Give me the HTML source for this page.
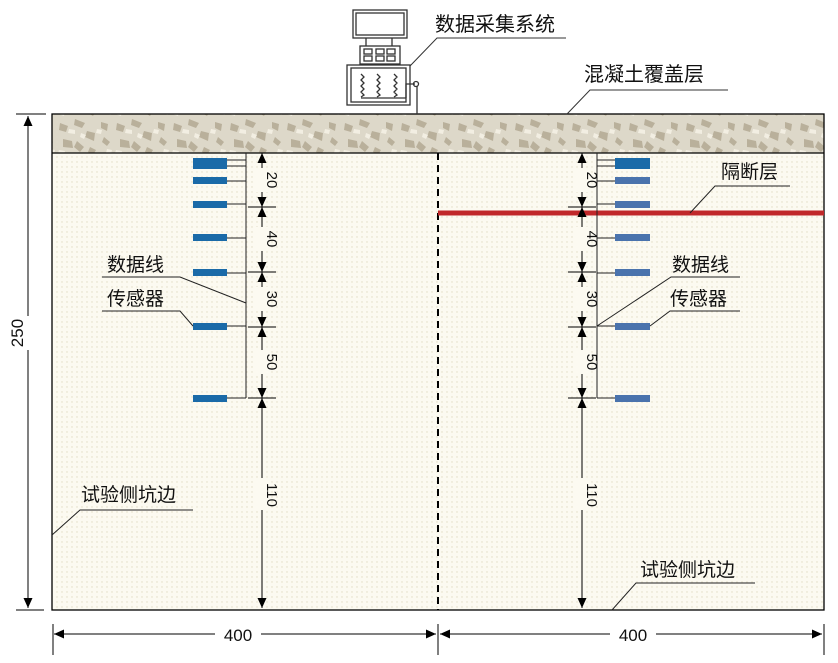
<!DOCTYPE html>
<html><head><meta charset="utf-8"><style>
body{margin:0;background:#fff}
svg{display:block}
text{font-family:"Liberation Sans","Noto Sans CJK SC",sans-serif;fill:#111}
</style></head><body>
<svg width="838" height="663" viewBox="0 0 838 663" xmlns="http://www.w3.org/2000/svg">
<defs>
<pattern id="dots" width="5" height="5" patternUnits="userSpaceOnUse">
<rect width="5" height="5" fill="#fcfaf1"/><circle cx="2" cy="2" r="0.7" fill="#e2dcc4"/></pattern>
<pattern id="conc" width="57" height="39" patternUnits="userSpaceOnUse">
<rect width="57" height="39" fill="#ddd8c9"/>
<path d="M3 6l8 3-2 6-7-2zM18 2l10 4-3 5-8-3zM30 14l8 2-1 8-9-4zM6 22l9 2 1 7-10-1zM20 24l7 6-4 5-6-5zM33 30l6 3-3 5-5-3zM44 5l7 2-1 7-6-3zM47 20l6 5-3 4-5-4z" fill="#b9b09b"/>
<path d="M12 12l6 1 0 4-7-1zM24 16l5 2-2 4-4-2zM2 33l6 1-1 4-6-2zM40 12l5 1-1 4-5-1zM50 32l5 1-1 4-5-1z" fill="#f2eee2"/>
</pattern>
<marker id="a" viewBox="0 0 10 10" refX="10" refY="5" markerUnits="userSpaceOnUse" markerWidth="11" markerHeight="10" orient="auto-start-reverse"><path d="M0 0.5L10 5L0 9.5z" fill="#000"/></marker>
</defs>
<rect x="52" y="153" width="772" height="457" fill="url(#dots)"/>
<rect x="52" y="114" width="772" height="39" fill="url(#conc)"/>
<rect x="52" y="114" width="772" height="496" fill="none" stroke="#000" stroke-width="1.3"/>
<line x1="52" y1="153" x2="824" y2="153" stroke="#000" stroke-width="1.3"/>
<line x1="438" y1="153" x2="438" y2="610" stroke="#000" stroke-width="2" stroke-dasharray="7,5"/>
<line x1="438" y1="213" x2="824" y2="213" stroke="#c0282a" stroke-width="5"/>

<g fill="none" stroke="#333" stroke-width="1.3">
<rect x="353" y="10" width="54" height="28"/><rect x="356" y="13" width="48" height="22"/>
<line x1="366" y1="38" x2="366" y2="46"/><line x1="392" y1="38" x2="392" y2="46"/>
<rect x="360" y="46" width="40" height="18"/>
<rect x="364" y="49" width="8" height="5"/><rect x="376" y="49" width="8" height="5"/><rect x="387" y="49" width="8" height="5"/>
<rect x="364" y="56" width="8" height="5"/><rect x="376" y="56" width="8" height="5"/><rect x="387" y="56" width="8" height="5"/>
<rect x="347" y="65" width="63" height="40"/><rect x="351" y="68" width="55" height="34"/>
<path d="M361 74l3 3-3 3 3 3-3 3 3 3-3 3 3 3-3 2M377 74l3 3-3 3 3 3-3 3 3 3-3 3 3 3-3 2M394 74l3 3-3 3 3 3-3 3 3 3-3 3 3 3-3 2"/>
<path d="M361 98h45 M406 98V84h9"/><circle cx="416" cy="84" r="2.5"/><line x1="417" y1="86" x2="417" y2="114"/>
</g>
<text x="435" y="31" font-size="20">数据采集系统</text>
<path d="M410 66L437 38H566" stroke="#333" fill="none"/>
<text x="584" y="81" font-size="20">混凝土覆盖层</text>
<path d="M567 114L590 90H728" stroke="#333" fill="none"/>

<g fill="#1a6aa8">
<rect x="193" y="158" width="34" height="11"/><rect x="193" y="177" width="34" height="7"/><rect x="193" y="201" width="34" height="7"/>
<rect x="193" y="234" width="34" height="7"/><rect x="193" y="269" width="34" height="7"/><rect x="193" y="323" width="34" height="7"/><rect x="193" y="395" width="34" height="7"/>
</g>
<g stroke="#222" fill="none">
<path d="M227 160H246M227 166H246M227 181H246M227 204H246M227 238H246M227 273H246M227 326H246M227 398H246M246 153V398"/>
</g>
<g fill="#4a73ad">
<rect x="615" y="158" width="35" height="11" fill="#1a6aa8"/><rect x="615" y="177" width="35" height="7"/><rect x="615" y="201" width="35" height="7"/>
<rect x="615" y="234" width="35" height="7"/><rect x="615" y="269" width="35" height="7"/><rect x="615" y="323" width="35" height="7"/><rect x="615" y="395" width="35" height="7"/>
</g>
<g stroke="#222" fill="none">
<path d="M615 160H597M615 166H597M615 181H597M615 204H597M615 238H597M615 273H597M615 326H597M615 398H597M597 153V398"/>
</g>

<g stroke="#000" stroke-width="1" fill="none">
<g id="dl">
<line x1="262" y1="153" x2="262" y2="207" marker-start="url(#a)" marker-end="url(#a)"/>
<line x1="262" y1="207" x2="262" y2="272" marker-start="url(#a)" marker-end="url(#a)"/>
<line x1="262" y1="272" x2="262" y2="327" marker-start="url(#a)" marker-end="url(#a)"/>
<line x1="262" y1="327" x2="262" y2="398" marker-start="url(#a)" marker-end="url(#a)"/>
<line x1="262" y1="398" x2="262" y2="608" marker-start="url(#a)" marker-end="url(#a)"/>
<path d="M248 153H276M248 207H276M248 272H276M248 327H276M248 398H276"/>
</g>
<use href="#dl" transform="translate(320,0)"/>
<line x1="28" y1="116" x2="28" y2="608" marker-start="url(#a)" marker-end="url(#a)"/>
<path d="M16 114H46M16 610H44"/>
<line x1="54" y1="634" x2="436" y2="634" marker-start="url(#a)" marker-end="url(#a)"/>
<line x1="440" y1="634" x2="822" y2="634" marker-start="url(#a)" marker-end="url(#a)"/>
<path d="M53 624V655M438 624V655M824 624V655"/>
</g>
<g font-size="15" text-anchor="middle">
<g id="nums">
<rect x="255" y="168" width="14" height="24" fill="#fcfaf1"/><text transform="translate(267,180) rotate(90)">20</text>
<rect x="255" y="227" width="14" height="24" fill="#fcfaf1"/><text transform="translate(267,239) rotate(90)">40</text>
<rect x="255" y="287" width="14" height="24" fill="#fcfaf1"/><text transform="translate(267,299) rotate(90)">30</text>
<rect x="255" y="350" width="14" height="24" fill="#fcfaf1"/><text transform="translate(267,362) rotate(90)">50</text>
<rect x="255" y="478" width="14" height="32" fill="#fcfaf1"/><text transform="translate(267,495) rotate(90)" font-family="Liberation Serif">110</text>
</g>
<use href="#nums" transform="translate(320,0)"/>
<rect x="20" y="316" width="16" height="34" fill="#fff"/>
<text transform="translate(23,333) rotate(-90)" font-size="17" font-family="Liberation Serif">250</text>
<rect x="215" y="625" width="46" height="18" fill="#fff"/><text x="238" y="641" font-size="17" font-family="Liberation Serif">400</text>
<rect x="610" y="625" width="46" height="18" fill="#fff"/><text x="633" y="641" font-size="17" font-family="Liberation Serif">400</text>
</g>

<g font-size="19">
<text x="107" y="271">数据线</text><text x="107" y="305">传感器</text>
<text x="672" y="271">数据线</text><text x="670" y="305">传感器</text>
<text x="721" y="178">隔断层</text>
<text x="81" y="501">试验侧坑边</text>
<text x="640" y="576">试验侧坑边</text>
</g>
<g stroke="#222" fill="none">
<path d="M102 277H180L246 303"/><path d="M102 311H180L193 326"/>
<path d="M597 326L671 277H740"/><path d="M650 326L670 311H740"/>
<path d="M690 213L715 186H790"/>
<path d="M52 535L80 510H193"/>
<path d="M612 610L636 583H755"/>
</g>
</svg>
</body></html>
